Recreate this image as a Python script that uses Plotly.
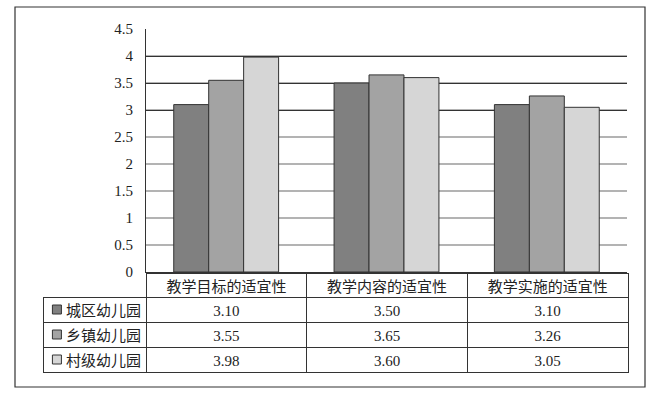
import plotly.graph_objects as go

categories = ["教学目标的适宜性", "教学内容的适宜性", "教学实施的适宜性"]
series_names = ["城区幼儿园", "乡镇幼儿园", "村级幼儿园"]
urban = [3.10, 3.50, 3.10]
town = [3.55, 3.65, 3.26]
village = [3.98, 3.60, 3.05]
y_ticks = [0, 0.5, 1, 1.5, 2, 2.5, 3, 3.5, 4, 4.5]
y_tick_labels = ["0", "0.5", "1", "1.5", "2", "2.5", "3", "3.5", "4", "4.5"]

colors = ["#808080", "#a3a3a3", "#d6d6d6"]
series_values = [urban, town, village]

W, H = 665, 396
FONT = "Liberation Serif, Noto Sans CJK SC, serif"
CLEAR = "rgba(0,0,0,0)"

def px_x(v):
    return v / W

def px_y(v):
    return 1 - v / H

fig = go.Figure()
for name, vals, c in zip(series_names, series_values, colors):
    fig.add_trace(go.Bar(
        x=categories, y=vals, name=name,
        marker=dict(color=c, line=dict(color="#333333", width=1)),
        xaxis="x", yaxis="y", showlegend=False,
    ))

# invisible trace so the overlay axis (dark upper gridlines) is drawn
fig.add_trace(go.Scatter(
    x=[categories[0]], y=[0], yaxis="y2", xaxis="x", mode="markers",
    marker=dict(opacity=0), hoverinfo="skip", showlegend=False,
))

# data table below the chart
NB = "\u00a0"
first_col = [NB * 4 + n for n in series_names]
cols = [first_col] + [[f"{series_values[s][i]:.2f}" for s in range(3)] for i in range(3)]
fig.add_trace(go.Table(
    domain=dict(x=[px_x(43), px_x(628)], y=[px_y(376), px_y(273)]),
    columnwidth=[103, 160.5, 160.5, 160.5],
    header=dict(
        values=[""] + categories,
        height=24,
        align="center",
        fill=dict(color=[CLEAR, "white", "white", "white"]),
        line=dict(color=[CLEAR, "#333333", "#333333", "#333333"], width=1),
        font=dict(family=FONT, size=15, color="#222222"),
    ),
    cells=dict(
        values=cols,
        height=25,
        align=["left", "center", "center", "center"],
        fill=dict(color=[CLEAR, "white", "white", "white"]),
        line=dict(color="#333333", width=1),
        font=dict(family=FONT, size=15, color="#222222"),
    ),
))

# legend keys inside the table's first column
fig.add_trace(go.Scatter(
    x=[0.135] * 3, y=series_names, xaxis="x3", yaxis="y3", mode="markers",
    marker=dict(symbol="square", size=9, color=colors,
                line=dict(color="#333333", width=1)),
    hoverinfo="skip", showlegend=False,
))

fig.update_layout(
    template="none",
    width=W, height=H, autosize=False,
    margin=dict(l=0, r=0, t=0, b=0, pad=0, autoexpand=False),
    paper_bgcolor="white", plot_bgcolor=CLEAR,
    barmode="group", bargap=0.346, bargroupgap=0,
    font=dict(family=FONT, size=14, color="#222222"),
    xaxis=dict(
        domain=[px_x(146), px_x(627)], automargin=False,
        showticklabels=False, ticks="",
        showline=True, linecolor="#333333", linewidth=1,
        showgrid=False, zeroline=False,
    ),
    yaxis=dict(
        domain=[px_y(272), px_y(29)], automargin=False,
        range=[0, 4.5],
        tickvals=y_ticks, ticktext=y_tick_labels,
        showline=True, linecolor="#333333", linewidth=1,
        showgrid=True, gridcolor="#b3b3b3", gridwidth=1.5,
        ticks="", ticklabelstandoff=9,
        tickfont=dict(family=FONT, size=15, color="#222222"),
        zeroline=False,
    ),
    yaxis2=dict(
        overlaying="y", range=[0, 4.5], automargin=False,
        tickvals=[t for t in y_ticks if t >= 3],
        showticklabels=False, ticks="",
        showgrid=True, gridcolor="#333333", gridwidth=1.2,
        showline=False, zeroline=False,
    ),
    xaxis3=dict(domain=[px_x(43), px_x(146)], range=[0, 1], visible=False,
                anchor="y3", automargin=False),
    yaxis3=dict(domain=[px_y(372), px_y(297)], range=[2.5, -0.5], visible=False,
                type="category", categoryarray=series_names, anchor="x3",
                automargin=False),
    shapes=[dict(
        type="rect", xref="paper", yref="paper",
        x0=px_x(15), x1=px_x(645), y0=px_y(387), y1=px_y(7),
        line=dict(color="#333333", width=1.2), fillcolor=CLEAR,
        layer="below",
    )],
)

fig.write_html("out.html", config={"displayModeBar": False},
               post_script="document.body.style.margin='0';")
